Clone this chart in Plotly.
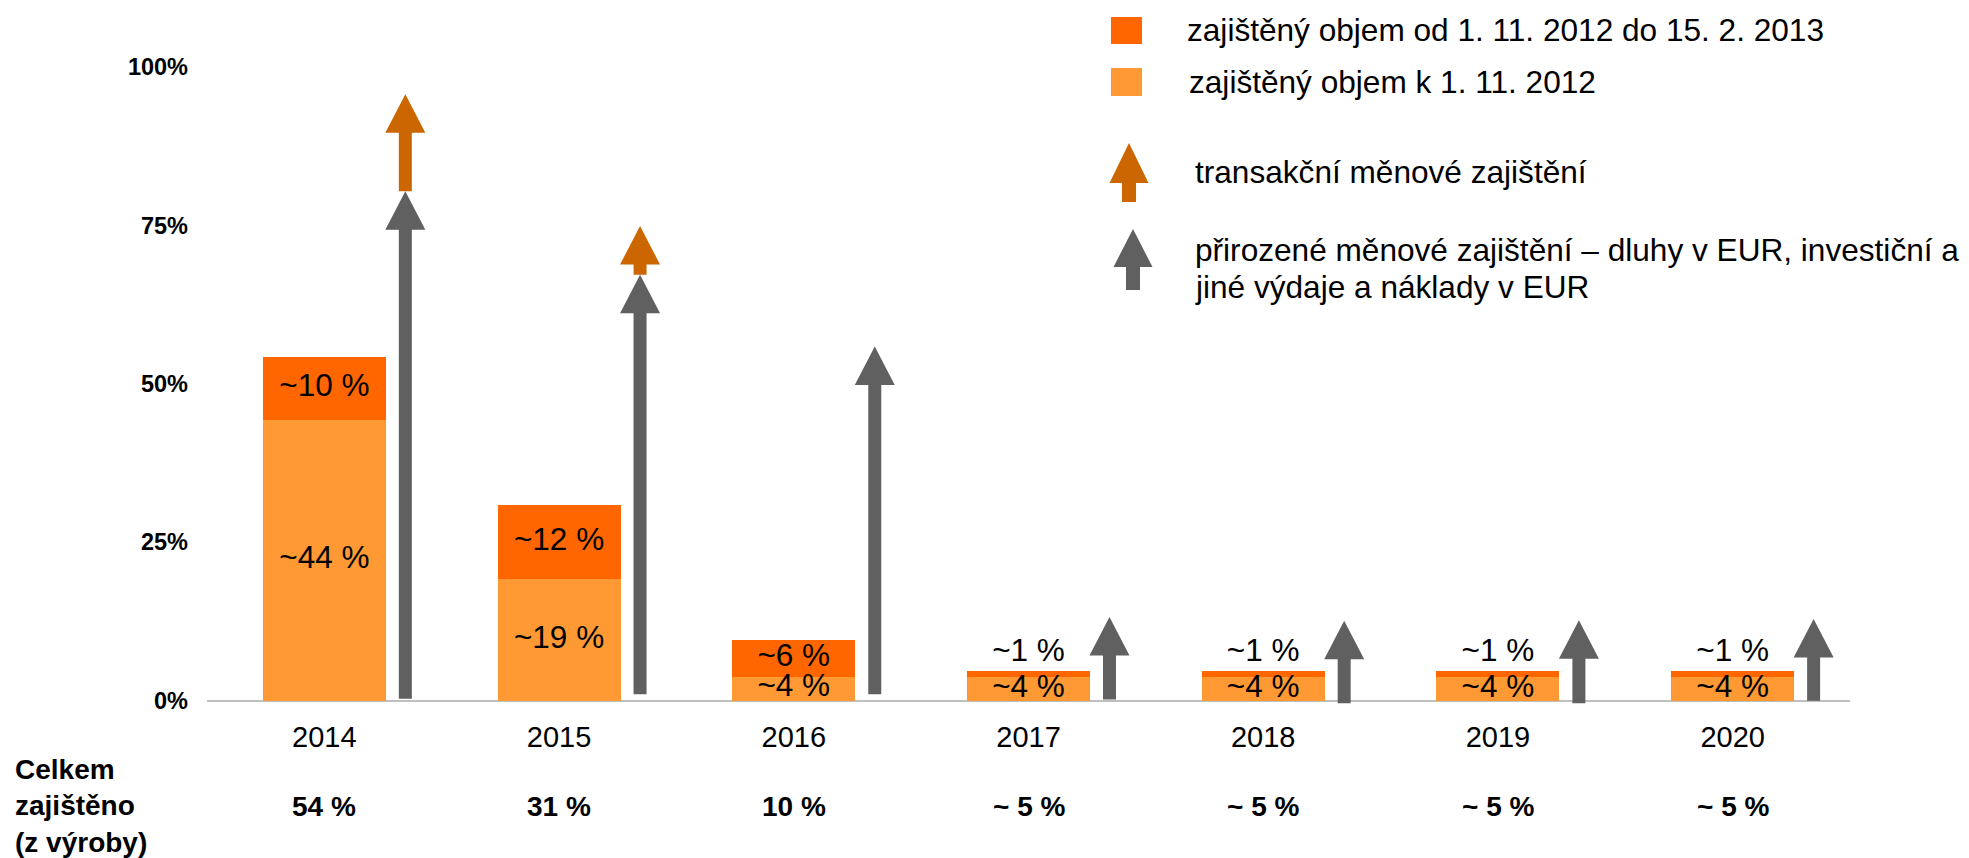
import plotly.graph_objects as go

# ---------------- data ----------------
years = ["2014", "2015", "2016", "2017", "2018", "2019", "2020"]
hedged_before = [44.3, 19.2, 3.8, 3.7, 3.7, 3.7, 3.7]          # zajištěný objem k 1. 11. 2012
hedged_new = [10.0, 11.7, 5.7, 1.0, 1.0, 1.0, 1.0]             # zajištěný objem od 1. 11. 2012 do 15. 2. 2013
labels_before = ["~44 %", "~19 %", "~4 %", "~4 %", "~4 %", "~4 %", "~4 %"]
labels_new = ["~10 %", "~12 %", "~6 %", "~1 %", "~1 %", "~1 %", "~1 %"]
natural_base = [0.3, 1.0, 1.0, 0.2, -0.4, -0.4, 0.0]            # přirozené zajištění – start of arrow
natural_tip = [80.4, 67.2, 55.9, 13.2, 12.6, 12.7, 12.9]        # přirozené zajištění – arrow tip
transaction_tip = [95.7, 74.9, None, None, None, None, None]    # transakční zajištění – arrow tip
total_labels = ["54 %", "31 %", "10 %", "~ 5 %", "~ 5 %", "~ 5 %", "~ 5 %"]
y_ticks = [0, 25, 50, 75, 100]
y_tick_text = ["0%", "25%", "50%", "75%", "100%"]

legend_texts = [
    "zajištěný objem od 1. 11. 2012 do 15. 2. 2013",
    "zajištěný objem k 1. 11. 2012",
    "transakční měnové zajištění",
    "přirozené měnové zajištění – dluhy v EUR, investiční a",
    "jiné výdaje a náklady v EUR",
]
bottom_title = "Celkem<br>zajištěno<br>(z výroby)"

# ---------------- style ----------------
C_DARK = "#FF6600"
C_LIGHT = "#FF9933"
C_ARROW_OR = "#CC6600"
C_ARROW_GR = "#606060"
FONT = "Liberation Sans, Arial, sans-serif"

W, H = 1969, 858
ML, MR, MT, MB = 207, 119, 67, 151
PW, PH = W - ML - MR, H - MT - MB
X_RANGE = [-0.5, len(years) - 0.5]
Y_RANGE = [-1, 100]
px_per_x = PW / (X_RANGE[1] - X_RANGE[0])
px_per_y = PH / (Y_RANGE[1] - Y_RANGE[0])


def xp(px):
    return (px - ML) / PW


def yp(py):
    return (H - MB - py) / PH


BAR_W = 123 / px_per_x
ARROW_DX = 0.345
SHAFT_HALF = 6.5 / px_per_x
HEAD_HALF = 20 / px_per_x
HEAD_H = 38.5 / px_per_y


def arrow_path(xc, y0, y1, sh, hh, hl):
    yb = y1 - hl
    return (f"M {xc - sh},{y0} L {xc + sh},{y0} L {xc + sh},{yb} L {xc + hh},{yb} "
            f"L {xc},{y1} L {xc - hh},{yb} L {xc - sh},{yb} Z")


x_idx = list(range(len(years)))

fig = go.Figure()
fig.add_trace(go.Bar(x=x_idx, y=hedged_before, width=BAR_W, marker=dict(color=C_LIGHT, line=dict(width=0)),
                     name=legend_texts[1], showlegend=False, hoverinfo="skip"))
fig.add_trace(go.Bar(x=x_idx, y=hedged_new, width=BAR_W, marker=dict(color=C_DARK, line=dict(width=0)),
                     name=legend_texts[0], showlegend=False, hoverinfo="skip"))

# segment labels
y_lab_before = [b / 2 for b in hedged_before]
y_lab_new = [b + n / 2 if n >= 3 else b + n + 2.8 for b, n in zip(hedged_before, hedged_new)]
fig.add_trace(go.Scatter(x=x_idx, y=y_lab_before, mode="text", text=labels_before,
                         textfont=dict(family=FONT, size=31.5, color="#000000"),
                         showlegend=False, cliponaxis=False, hoverinfo="skip"))
fig.add_trace(go.Scatter(x=x_idx, y=y_lab_new, mode="text", text=labels_new,
                         textfont=dict(family=FONT, size=31.5, color="#000000"),
                         showlegend=False, cliponaxis=False, hoverinfo="skip"))

shapes = []
for i in x_idx:
    xc = i + ARROW_DX
    shapes.append(dict(type="path", xref="x", yref="y", layer="above",
                       path=arrow_path(xc, natural_base[i], natural_tip[i], SHAFT_HALF, HEAD_HALF, HEAD_H),
                       fillcolor=C_ARROW_GR, line=dict(width=0)))
    if transaction_tip[i] is not None:
        shapes.append(dict(type="path", xref="x", yref="y", layer="above",
                           path=arrow_path(xc, natural_tip[i], transaction_tip[i], SHAFT_HALF, HEAD_HALF, HEAD_H),
                           fillcolor=C_ARROW_OR, line=dict(width=0)))

# ---- legend (manual) ----
shapes.append(dict(type="rect", xref="paper", yref="paper", x0=xp(1111), x1=xp(1142), y0=yp(44), y1=yp(17),
                   fillcolor=C_DARK, line=dict(width=0)))
shapes.append(dict(type="rect", xref="paper", yref="paper", x0=xp(1111), x1=xp(1142), y0=yp(96), y1=yp(68),
                   fillcolor=C_LIGHT, line=dict(width=0)))


def legend_arrow(cx, tip, head_base, bottom, color):
    p = (f"M {xp(cx - 7)},{yp(bottom)} L {xp(cx + 7)},{yp(bottom)} L {xp(cx + 7)},{yp(head_base)} "
         f"L {xp(cx + 19.5)},{yp(head_base)} L {xp(cx)},{yp(tip)} L {xp(cx - 19.5)},{yp(head_base)} "
         f"L {xp(cx - 7)},{yp(head_base)} Z")
    return dict(type="path", xref="paper", yref="paper", path=p, fillcolor=color, line=dict(width=0))


shapes.append(legend_arrow(1129, 143, 183, 202, C_ARROW_OR))
shapes.append(legend_arrow(1133, 229, 267, 290, C_ARROW_GR))

annotations = []
leg_pos = [(1185, 29.5), (1187, 82.5), (1193, 172), (1193, 250), (1193, 287)]
for txt, (lx, ly) in zip(legend_texts, leg_pos):
    annotations.append(dict(xref="paper", yref="paper", x=xp(lx), y=yp(ly), xanchor="left", yanchor="middle",
                            text=txt, showarrow=False, font=dict(family=FONT, size=31.6, color="#000000")))

# totals row
for i, t in zip(x_idx, total_labels):
    annotations.append(dict(xref="x", yref="paper", x=i, y=yp(806), xanchor="center", yanchor="middle",
                            text=t, showarrow=False,
                            font=dict(family=FONT, size=28, color="#000000", weight="bold")))
annotations.append(dict(xref="paper", yref="paper", x=xp(13), y=yp(806), xanchor="left", yanchor="middle",
                        text=bottom_title, align="left", showarrow=False,
                        font=dict(family=FONT, size=28, color="#000000", weight="bold")))

fig.update_layout(
    width=W, height=H,
    margin=dict(l=ML, r=MR, t=MT, b=MB, pad=0),
    barmode="stack", bargap=0,
    plot_bgcolor="white", paper_bgcolor="white",
    showlegend=False,
    shapes=shapes, annotations=annotations,
    xaxis=dict(range=X_RANGE, tickvals=x_idx, ticktext=years, showgrid=False, zeroline=False,
               showline=False, ticks="", ticklabelstandoff=10,
               tickfont=dict(family=FONT, size=29, color="#000000")),
    yaxis=dict(range=Y_RANGE, tickvals=y_ticks, ticktext=y_tick_text, showgrid=False,
               zeroline=True, zerolinecolor="#BFBFBF", zerolinewidth=2, showline=False,
               ticks="", ticklabelstandoff=18,
               tickfont=dict(family=FONT, size=23.5, color="#000000", weight="bold")),
)

fig.write_html("out.html", config={"displayModeBar": False},
               post_script="document.body.style.margin='0';document.body.style.overflow='hidden';")
